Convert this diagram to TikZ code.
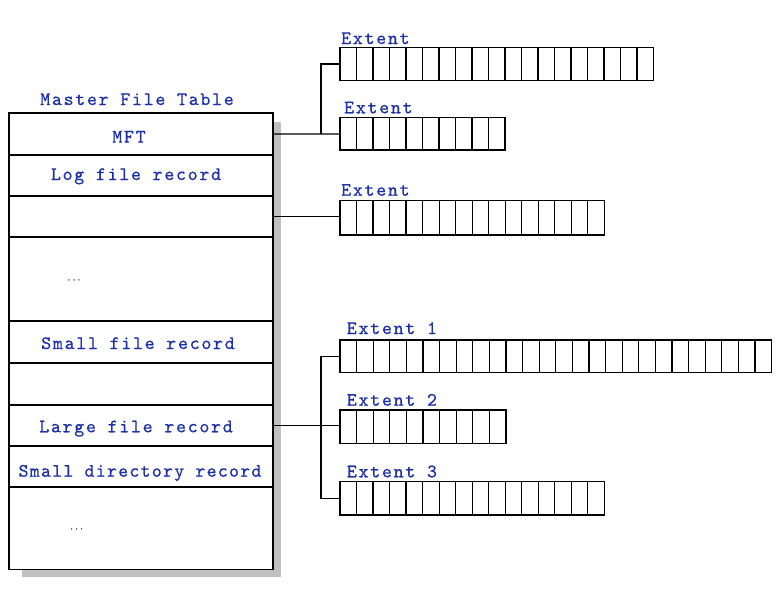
\documentclass[tikz,border=0pt]{standalone}
\usepackage{fontspec}
\newfontfamily\mftfam{lmmono10-regular.otf}[LetterSpace=9,FakeBold=0.6]
\newfontfamily\mftfamtight{lmmono10-regular.otf}[LetterSpace=6.5,FakeBold=0.6]
\newfontfamily\dotfam{lmmono10-regular.otf}[FakeBold=1.5]
\definecolor{txtblue}{RGB}{28,48,168}
\definecolor{shadowgray}{RGB}{192,192,192}
\newcommand\mftfont{\mftfam\fontsize{19}{19}\selectfont}
\newcommand\mftfonttight{\mftfamtight\fontsize{19}{19}\selectfont}
\tikzset{
  lbl/.style={font=\mftfont, text=txtblue, inner sep=0pt, anchor=base},
  lblw/.style={lbl, anchor=base west},
  dots/.style={font=\dotfam\fontsize{9.5}{9.5}\selectfont, text=black!70, inner sep=0pt, anchor=base},
  rowbox/.style={draw, fill=white, line width=1.3pt, minimum width=264pt, inner sep=0pt, outer sep=0pt, anchor=north west},
  extentbox/.style={draw, line width=1.3pt, inner sep=0pt, outer sep=0pt, anchor=north west},
  cellline/.style={line width=1.2pt},
  conn/.style={line width=1.2pt},
}
% name, top y, cells, cell width, height
\newcommand\extbox[5]{%
  \node[extentbox, minimum width={#3*#4 pt}, minimum height=#5pt] (#1) at (340,#2) {};
  \pgfmathtruncatemacro\lastcell{#3-1}%
  \foreach \i in {1,...,\lastcell} {\draw[cellline] ([xshift=\i*#4 pt]#1.north west) -- ([xshift=\i*#4 pt]#1.south west);}%
}
\begin{document}
\begin{tikzpicture}[x=1pt,y=-1pt]
\useasboundingbox (0,0) rectangle (779,589);
% shadow
\fill[shadowgray] (22,122) rectangle (281,577);
% table rows
\node[rowbox, minimum height=42pt] (r1) at (9,113) {};
\node[rowbox, minimum height=41pt] (r2) at (9,155) {};
\node[rowbox, minimum height=41pt] (r3) at (9,196) {};
\node[rowbox, minimum height=84pt] (r4) at (9,237) {};
\node[rowbox, minimum height=42pt] (r5) at (9,321) {};
\node[rowbox, minimum height=42pt] (r6) at (9,363) {};
\node[rowbox, minimum height=41pt] (r7) at (9,405) {};
\node[rowbox, minimum height=41pt] (r8) at (9,446) {};
\node[rowbox, minimum height=82.5pt] (r9) at (9,487) {};
% table texts
\node[lbl] (title) at (137,105) {Master File Table};
\node[lbl] (tmft) at (129,142.5) {MFT};
\node[lbl] (tlog) at (136,180) {Log file record};
\node[dots] (tdots1) at (74,280.5) {...};
\node[lbl] (tsmall) at (138,349) {Small file record};
\node[lbl] (tlarge) at (136,432.3) {Large file record};
\node[lbl, font=\mftfonttight] (tdir) at (140,476.7) {Small directory record};
\node[dots] (tdots2) at (76.5,529.5) {...};
% extents
\extbox{ea}{47.3}{19}{16.5}{33.4}
\extbox{eb}{117.7}{10}{16.5}{32.4}
\extbox{ec}{200.7}{16}{16.52}{34.3}
\extbox{e1}{340}{26}{16.6}{32.7}
\extbox{e2}{410}{10}{16.6}{33.3}
\extbox{e3}{481.7}{16}{16.52}{33.3}
% extent labels
\node[lblw] (la) at (341,44) {Extent};
\node[lblw] (lb) at (344,113.3) {Extent};
\node[lblw] (lc) at (341,195.7) {Extent};
\node[lblw] (l1) at (346.7,334) {Extent 1};
\node[lblw] (l2) at (346.7,405.7) {Extent 2};
\node[lblw] (l3) at (346.7,477.3) {Extent 3};
% connectors
\coordinate (j1) at (321,134);
\draw[conn] (r1.east) -- (eb.west);
\draw[conn] (j1) |- (ea.west);
\draw[conn] (r3.east) -- (r3.east -| ec.west);
\coordinate (j2) at (321,425.5);
\draw[conn] (r7.east) -- (r7.east -| e2.west);
\draw[conn] (e1.west) -| (j2) |- (e3.west);
\end{tikzpicture}
\end{document}
